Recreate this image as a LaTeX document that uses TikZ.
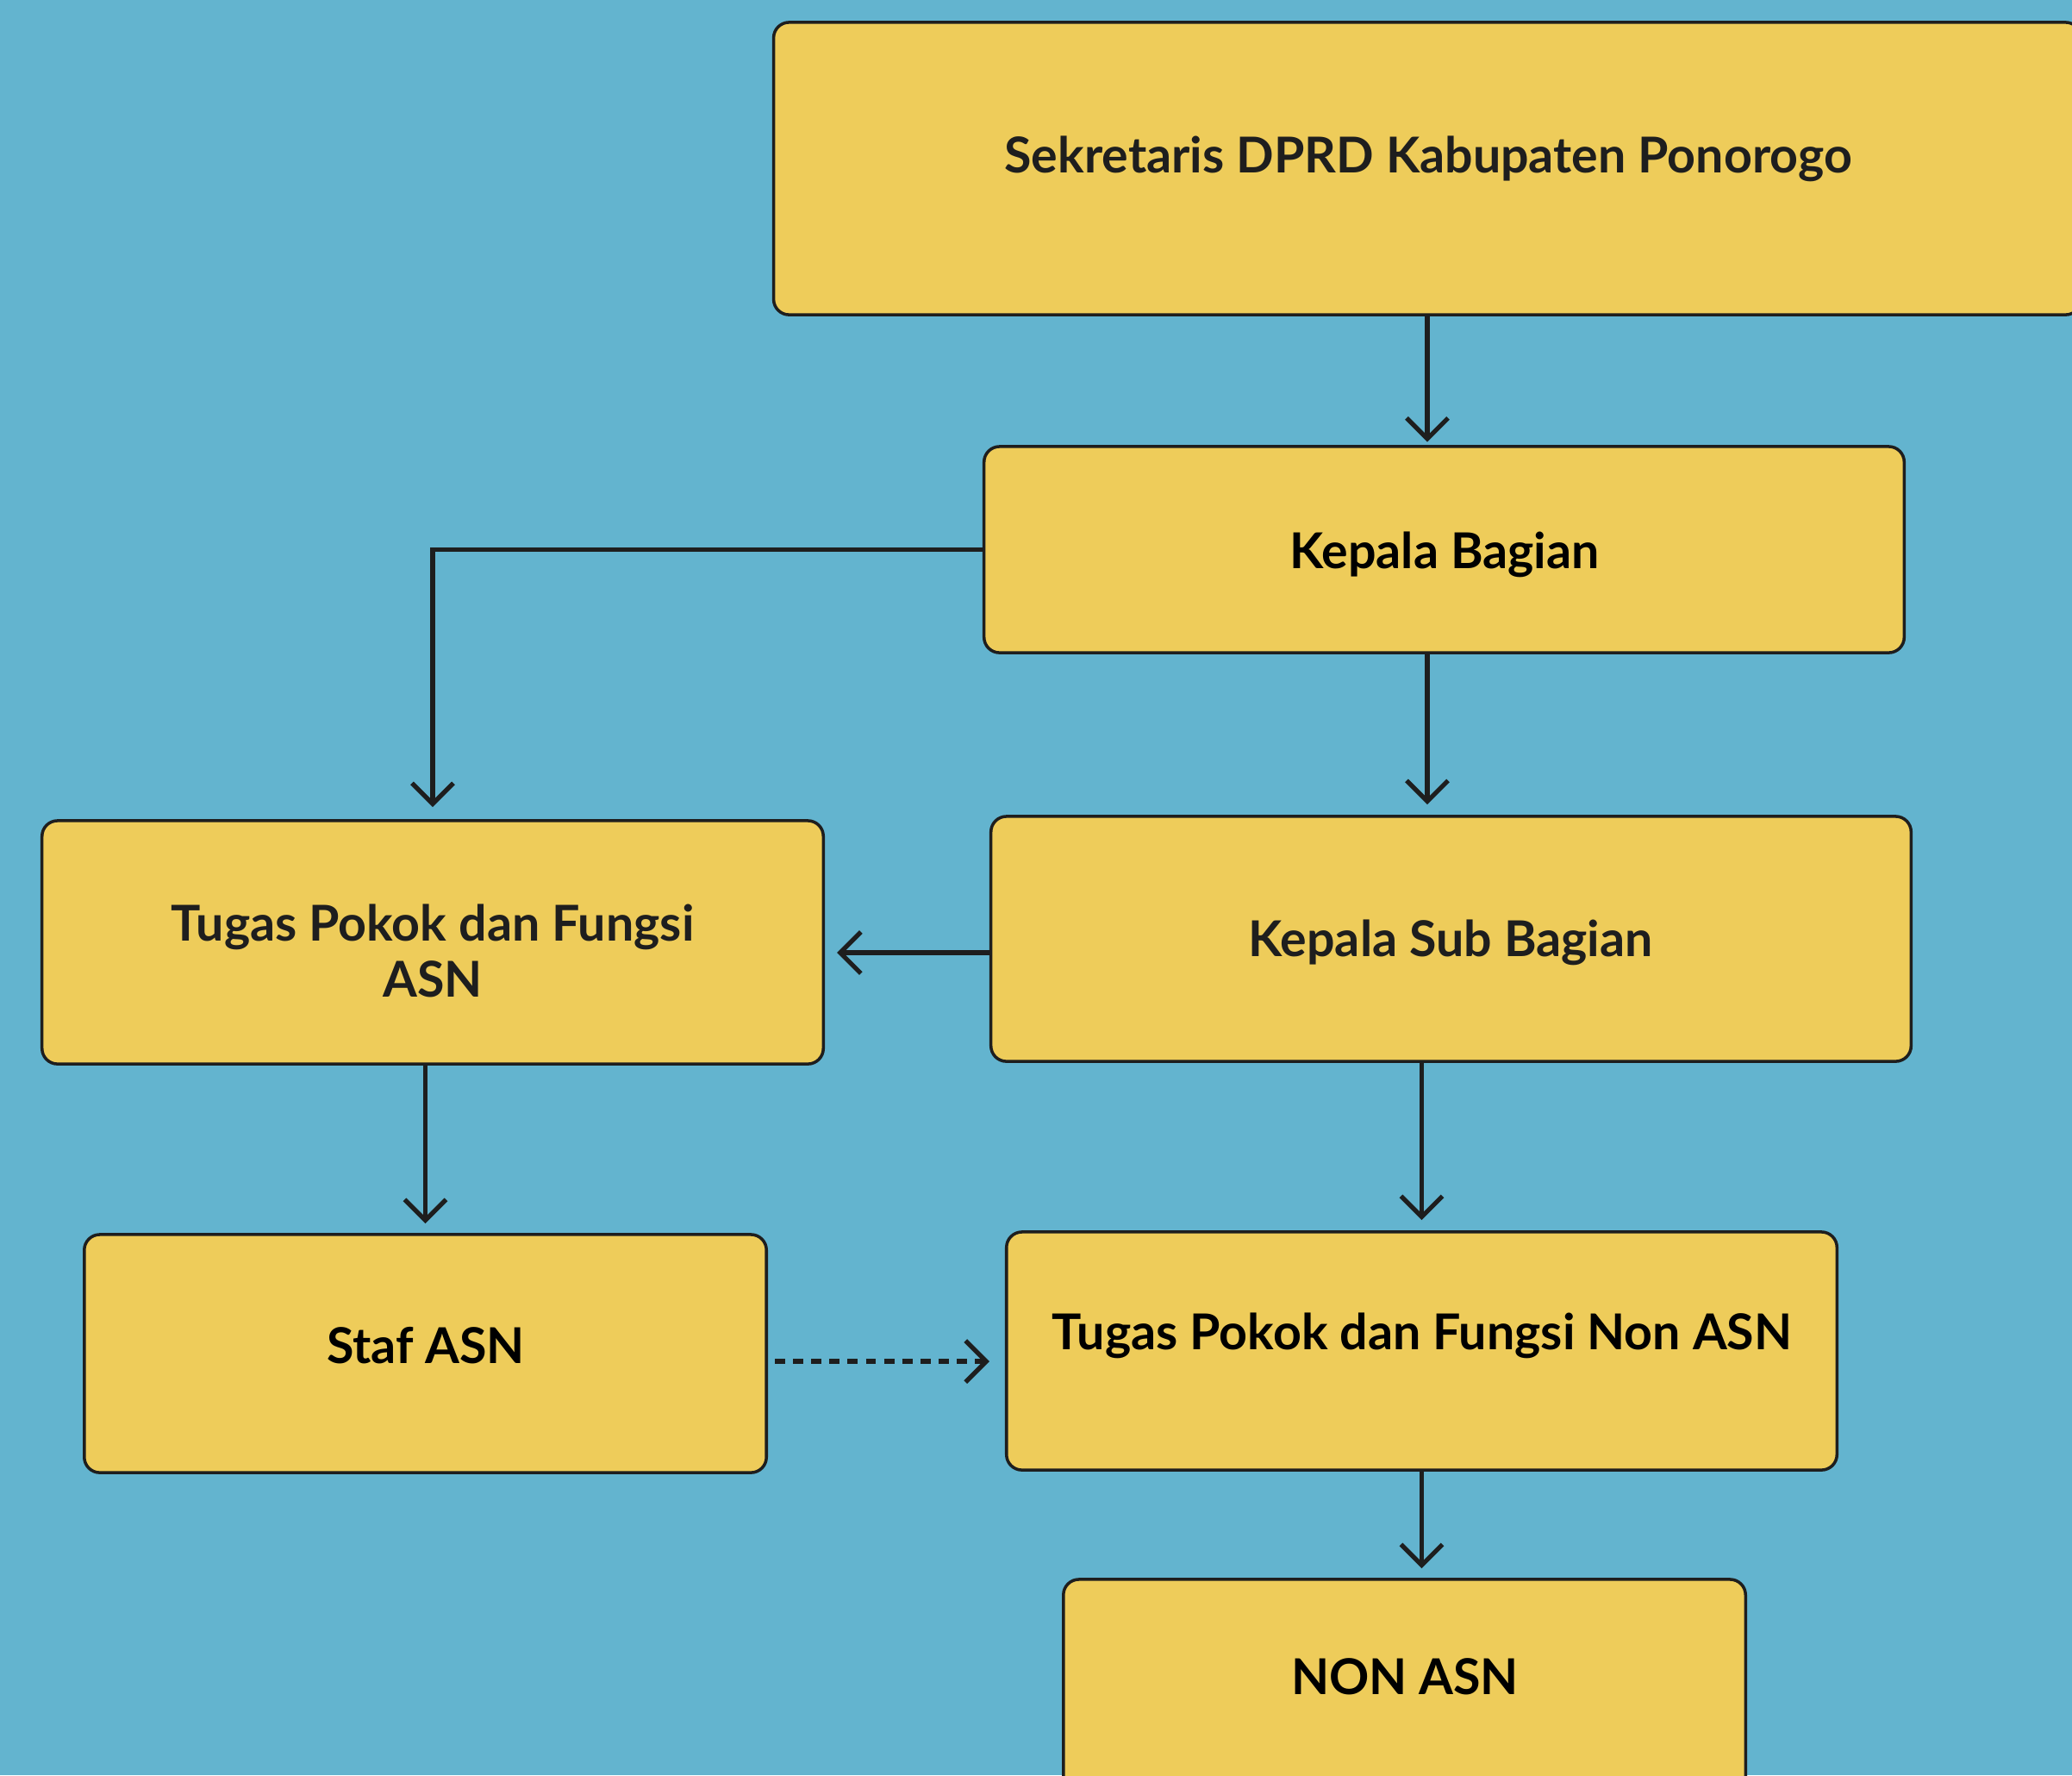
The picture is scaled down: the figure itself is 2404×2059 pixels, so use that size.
\documentclass[tikz,border=0pt]{standalone}
\usepackage{fontspec}
\setmainfont{Lato}
\usetikzlibrary{arrows.meta}
\definecolor{bgc}{HTML}{63B4CF}
\definecolor{boxc}{HTML}{EECC5A}
\definecolor{inkc}{HTML}{1E1E1E}
\tikzset{
  box/.style={draw=inkc, line width=1pt, fill=boxc, rounded corners=0.18cm, inner sep=0pt},
  lbl/.style={text=inkc, font=\fontsize{16.3}{18.3}\selectfont\bfseries, align=center, inner sep=0pt},
  conn/.style={draw=inkc, line width=1.5pt, -{Straight Barb[length=2.4mm, width=4.8mm, line width=1.5pt]}},
  dconn/.style={conn, dash pattern=on 3.4pt off 2.6pt},
}
\begin{document}
\begin{tikzpicture}[x=0.01cm, y=-0.01cm]
\fill[bgc] (0,0) rectangle (2404,2059);
\useasboundingbox (0,0) rectangle (2404,2059);
% boxes
\node[box, minimum width=15.16cm, minimum height=3.39cm] (top) at (1656,195.5) {};
\node[box, minimum width=10.67cm, minimum height=2.39cm] (kb) at (1675.5,637.5) {};
\node[box, minimum width=9.06cm, minimum height=2.82cm] (tpa) at (502,1093) {};
\node[box, minimum width=10.67cm, minimum height=2.84cm] (ksb) at (1683.5,1089) {};
\node[box, minimum width=7.91cm, minimum height=2.76cm] (staf) at (493.5,1570) {};
\node[box, minimum width=9.63cm, minimum height=2.76cm] (tpn) at (1649.5,1567) {};
\node[box, minimum width=7.91cm, minimum height=2.76cm] (non) at (1629.5,1970) {};
% texts
\node[lbl] (topT) at (1657,184) {Sekretaris DPRD Kabupaten Ponorogo};
\node[lbl, text=black] (kbT) at (1676,643) {Kepala Bagian};
\node[lbl] (tpaT) at (502,1103) {Tugas Pokok dan Fungsi\\ASN};
\node[lbl] (ksbT) at (1683,1093) {Kepala Sub Bagian};
\node[lbl, text=black] (stafT) at (494,1561) {Staf ASN};
\node[lbl, text=black] (tpnT) at (1650,1549) {Tugas Pokok dan Fungsi Non ASN};
\node[lbl, text=black] (nonT) at (1630,1945) {NON ASN};
% connectors
\draw[conn, shorten >=1pt] (top.south) -- (top.south |- kb.north);
\draw[conn, shorten >=0.14cm] (kb.west) -| (tpa.north);
\draw[conn, shorten >=0.12cm] (top.south |- kb.south) -- (top.south |- ksb.north);
\draw[conn, shorten >=0.14cm] ([yshift=-0.16cm]ksb.west) -- ([yshift=-0.16cm]ksb.west -| tpa.east);
\draw[conn, shorten >=0.11cm] (staf.north |- tpa.south) -- (staf.north);
\draw[conn, shorten >=0.12cm] (tpn.north |- ksb.south) -- (tpn.north);
\draw[dconn, shorten <=0.08cm, shorten >=0.18cm] ([yshift=-0.09cm]staf.east) -- ([yshift=-0.09cm]staf.east -| tpn.west);
\draw[conn, shorten >=0.11cm] (tpn.south) -- (tpn.south |- non.north);
\end{tikzpicture}
\end{document}
